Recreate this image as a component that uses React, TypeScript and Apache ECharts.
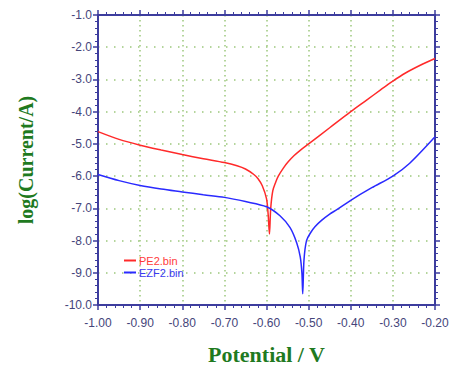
import React, { useEffect, useRef } from "react";
import * as echarts from "echarts";

const seriesNames = ["PE2.bin", "EZF2.bin"];

const pe2Potential = [-1.0, -0.95, -0.9, -0.85, -0.8, -0.75, -0.7, -0.67, -0.65, -0.63, -0.62, -0.61, -0.6, -0.596, -0.593, -0.59, -0.585, -0.578, -0.572, -0.56, -0.548, -0.535, -0.52, -0.5, -0.45, -0.4, -0.36, -0.33, -0.3, -0.27, -0.235, -0.2];
const pe2LogCurrent = [-4.62, -4.86, -5.04, -5.19, -5.33, -5.46, -5.58, -5.68, -5.78, -5.95, -6.08, -6.3, -6.7, -7.2, -7.8, -7.0, -6.45, -6.18, -6.0, -5.75, -5.55, -5.37, -5.2, -5.0, -4.5, -4.0, -3.62, -3.33, -3.05, -2.8, -2.56, -2.35];

const ezf2Potential = [-1.0, -0.95, -0.9, -0.85, -0.8, -0.75, -0.7, -0.65, -0.6, -0.568, -0.544, -0.528, -0.52, -0.516, -0.514, -0.511, -0.505, -0.495, -0.485, -0.47, -0.45, -0.433, -0.4, -0.35, -0.3, -0.26, -0.2];
const ezf2LogCurrent = [-5.95, -6.14, -6.29, -6.4, -6.49, -6.58, -6.66, -6.79, -6.95, -7.23, -7.6, -8.08, -8.5, -9.0, -9.65, -8.6, -8.0, -7.75, -7.57, -7.38, -7.18, -7.04, -6.75, -6.36, -6.0, -5.6, -4.78];

const xMin = -1.0;
const xMax = -0.2;
const xStep = 0.1;
const yMin = -10;
const yMax = -1;
const yStep = 1;

const axisColor = "#3d3d9e";
const labelColor = "#45457a";
const gridColor = "#9cc77c";
const titleColor = "#1f7a1f";

function pairs(xs: number[], ys: number[]) {
  return xs.map((x, i) => [x, ys[i]]);
}

export default function App() {
  const ref = useRef<HTMLDivElement>(null);
  useEffect(() => {
    if (!ref.current) return;
    const chart = echarts.init(ref.current, null, { renderer: "svg" });
    const baseAxis = {
      axisLine: { show: true, onZero: false, lineStyle: { color: axisColor, width: 2 } },
      axisTick: { show: true, length: 5, lineStyle: { color: axisColor, width: 1.5 } },
      minorTick: { show: true, splitNumber: 5, length: 3, lineStyle: { color: axisColor, width: 1 } },
    };
    chart.setOption({
      animation: false,
      backgroundColor: "#ffffff",
      grid: { left: 98, right: 16, top: 15, bottom: 62, containLabel: false, outerBoundsMode: "none" },
      legend: {
        orient: "vertical",
        left: 119,
        top: 250,
        itemWidth: 12,
        itemHeight: 2,
        itemGap: 1,
        icon: "rect",
        data: [
          { name: seriesNames[0], textStyle: { color: "#ff3b3b" } },
          { name: seriesNames[1], textStyle: { color: "#3b3bf0" } },
        ],
        textStyle: { fontSize: 11, fontFamily: "Liberation Sans, Arial, sans-serif", padding: [0, 0, 0, -2] },
      },
      xAxis: [
        {
          type: "value",
          min: xMin,
          max: xMax,
          interval: xStep,
          position: "bottom",
          ...baseAxis,
          axisLabel: {
            color: labelColor,
            fontSize: 12,
            fontFamily: "Liberation Sans, Arial, sans-serif",
            margin: 12,
            formatter: (v: number) => v.toFixed(2),
          },
          splitLine: { show: true, lineStyle: { color: gridColor, width: 1.5, type: [1.5, 3.5] } },
          name: "Potential / V",
          nameLocation: "middle",
          nameGap: 38,
          nameTextStyle: { color: titleColor, fontSize: 22, fontWeight: "bold", fontFamily: "Liberation Serif, Times New Roman, serif" },
        },
        {
          type: "value",
          min: xMin,
          max: xMax,
          interval: xStep,
          position: "top",
          ...baseAxis,
          axisLabel: { show: false },
          splitLine: { show: false },
        },
      ],
      yAxis: [
        {
          type: "value",
          min: yMin,
          max: yMax,
          interval: yStep,
          position: "left",
          ...baseAxis,
          axisLabel: {
            color: labelColor,
            fontSize: 12,
            fontFamily: "Liberation Sans, Arial, sans-serif",
            margin: 6,
            formatter: (v: number) => v.toFixed(1),
          },
          splitLine: { show: true, lineStyle: { color: gridColor, width: 1.5, type: [1.5, 6.5] } },
          name: "log(Current/A)",
          nameLocation: "middle",
          nameRotate: 90,
          nameGap: 62,
          nameTextStyle: { color: titleColor, fontSize: 20, fontWeight: "bold", fontFamily: "Liberation Serif, Times New Roman, serif" },
        },
        {
          type: "value",
          min: yMin,
          max: yMax,
          interval: yStep,
          position: "right",
          ...baseAxis,
          axisLabel: { show: false },
          splitLine: { show: false },
        },
      ],
      series: [
        {
          name: seriesNames[0],
          type: "line",
          data: pairs(pe2Potential, pe2LogCurrent),
          showSymbol: false,
          symbol: "none",
          smooth: 0.3,
          lineStyle: { color: "#ff2a2a", width: 1.5 },
          itemStyle: { color: "#ff2a2a" },
        },
        {
          name: seriesNames[1],
          type: "line",
          data: pairs(ezf2Potential, ezf2LogCurrent),
          showSymbol: false,
          symbol: "none",
          smooth: 0.3,
          lineStyle: { color: "#2a2aff", width: 1.5 },
          itemStyle: { color: "#2a2aff" },
        },
      ],
    });
    return () => chart.dispose();
  }, []);
  return <div ref={ref} style={{ position: "fixed", left: 0, top: 0, width: 451, height: 367 }} />;
}
